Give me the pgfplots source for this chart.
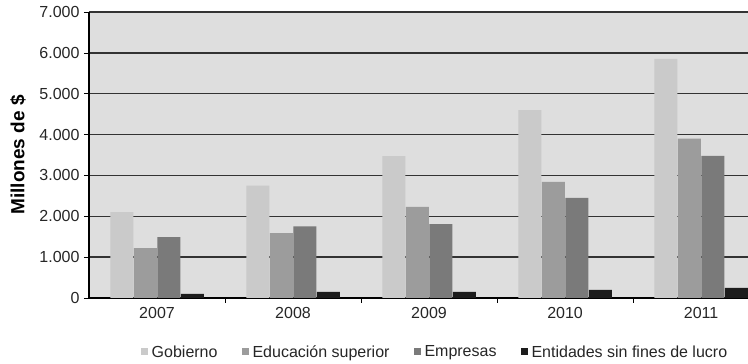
\documentclass[border=0pt]{standalone}
\usepackage{pgfplots}
\pgfplotsset{compat=1.18}
\usepackage{fontspec}
\setmainfont{Liberation Sans}
\definecolor{bgplot}{HTML}{DEDEDE}
\definecolor{cGob}{HTML}{CACACA}
\definecolor{cEdu}{HTML}{9C9C9C}
\definecolor{cEmp}{HTML}{7A7A7A}
\definecolor{cEnt}{HTML}{1C1C1C}
\definecolor{gridc}{HTML}{333333}
\begin{document}
\begin{tikzpicture}[x=1pt,y=1pt]
\begin{axis}[
  at={(89pt,66pt)}, anchor=south west,
  scale only axis, width=659pt, height=286pt,
  ybar=0.5pt, bar width=23pt,
  xmin=-0.5, xmax=4.345, ymin=0, ymax=7000,
  xtick={0,1,2,3,4}, xticklabels={2007,2008,2009,2010,2011},
  minor xtick={0.5,1.5,2.5,3.5},
  major x tick style={draw=none},
  minor x tick style={draw=black, line width=0.6pt},
  minor tick length=5pt,
  ytick={0,1000,...,7000},
  ymajorgrids, grid style={gridc, line width=1.4pt},
  axis background/.style={fill=bgplot},
  axis x line*=bottom, axis y line*=left,
  axis line style={black, line width=1.8pt},
  y axis line style={-}, x axis line style={-},
  ytick style={draw=black, line width=0.6pt},
  tick align=outside, major tick length=5pt,
  /pgf/number format/.cd, 1000 sep={.}, assume math mode=true,
  /pgfplots/.cd,
  tick label style={font=\fontsize{16}{19}\selectfont, text=black!85},
  yticklabel style={xshift=-1pt},
  xticklabel style={yshift=-1pt},
  every axis y label/.style={at={([xshift=-71pt]axis description cs:0,0.5)}, rotate=90, anchor=center},
  ylabel={\fontsize{19}{22}\selectfont\bfseries Millones de \$},
  legend columns=4,
  legend style={at={([yshift=-54pt]axis description cs:0.525,0)}, anchor=center, draw=none, fill=none,
    font=\fontsize{16}{19}\selectfont, text=black!85, column sep=2pt,
    /tikz/every even column/.append style={column sep=22pt}},
  legend image code/.code={\fill[#1] (0pt,-3.5pt) rectangle (7pt,3.5pt);},
]
\addplot[fill=cGob, draw=none] coordinates {(0,2100) (1,2750) (2,3470) (3,4600) (4,5850)};
\addplot[fill=cEdu, draw=none] coordinates {(0,1220) (1,1590) (2,2230) (3,2840) (4,3900)};
\addplot[fill=cEmp, draw=none] coordinates {(0,1490) (1,1750) (2,1810) (3,2450) (4,3480)};
\addplot[fill=cEnt, draw=none] coordinates {(0,100) (1,150) (2,150) (3,200) (4,245)};
\legend{Gobierno, Educación superior, Empresas, Entidades sin fines de lucro}
\end{axis}
\pgfresetboundingbox
\path[use as bounding box] (0pt,0pt) rectangle (748pt,364pt);
\end{tikzpicture}
\end{document}
